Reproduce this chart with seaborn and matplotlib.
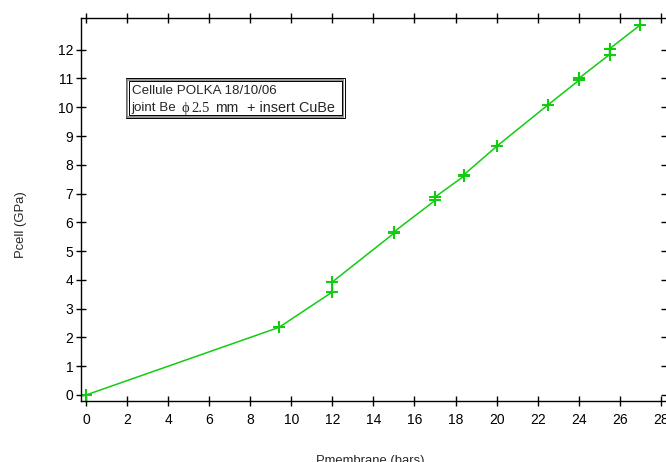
import numpy as np
import pandas as pd
import matplotlib
matplotlib.use('Agg')
import matplotlib.pyplot as plt
from matplotlib.patches import Rectangle
import seaborn as sns

# données
pmembrane = [0, 9.4, 12, 12, 15, 15, 17, 17, 18.4, 18.4, 20, 22.5, 24, 24, 25.5, 25.5, 27]
pcell = [0, 2.35, 3.58, 3.93, 5.62, 5.67, 6.76, 6.88, 7.6, 7.65, 8.64, 10.08, 10.93, 11.0, 11.83, 12.03, 12.86]
xticks = list(range(0, 29, 2))
yticks = list(range(0, 13))

W, H = 666, 462
sns.set_style('ticks')
plt.rcParams['font.family'] = ['Liberation Sans', 'DejaVu Sans']

fig = plt.figure(figsize=(W / 100, H / 100), dpi=100)
ax = fig.add_axes([80.7 / W, 1 - 401.3 / H, (W - 80.7) / W, (401.3 - 18.3) / H])

data = pd.DataFrame({'Pmembrane': pmembrane, 'Pcell': pcell})
sns.lineplot(data=data, x='Pmembrane', y='Pcell', sort=False, estimator=None,
             color='#11cc11', lw=1.1, marker='+', markersize=8,
             markeredgewidth=1.5, markeredgecolor='#11cc11', ax=ax)

ax.set_xlim(-0.258, 28.25)
ax.set_ylim(-0.219, 13.09)
ax.set_xticks(xticks)
ax.set_yticks(yticks)
ax.spines['right'].set_visible(False)
for s in ['left', 'top', 'bottom']:
    ax.spines[s].set_linewidth(1.0)
    ax.spines[s].set_color('black')
ax.tick_params(axis='x', direction='inout', length=7.5, width=1, top=True,
               labelsize=10, pad=5, colors='black')
ax.tick_params(axis='y', direction='inout', length=6.5, width=1, right=True,
               labelsize=10, pad=2, colors='black')

ax.set_xlabel('Pmembrane (bars)', fontsize=9.4)
ax.set_ylabel('Pcell (GPa)', fontsize=9.4)
ax.xaxis.set_label_coords(0.494, -0.14)
ax.yaxis.set_label_coords(-0.092, 0.46)


def px(x, y):
    return x / W, 1 - y / H


# cadre double de l'annotation
x0, y0, x1, y1 = 126, 78, 345, 118
for inset, col, lw in [(0, 'black', 0.7), (1.5, '#808080', 1.2), (3, 'black', 0.7)]:
    bx, by = px(x0 + inset, y1 - inset)
    fig.patches.append(Rectangle((bx, by), (x1 - x0 - 2 * inset) / W, (y1 - y0 - 2 * inset) / H,
                                 transform=fig.transFigure, fill=False, ec=col, lw=lw))

fs = 9.6
serif = ['Liberation Serif', 'DejaVu Serif']
fig.text(*px(131.5, 91.5), 'Cellule POLKA 18/10/06', fontsize=fs, va='center', ha='left')
fig.text(*px(131, 108), 'joint Be', fontsize=fs, va='center', ha='left')
fig.text(*px(182, 108.5), '\u03d5', fontsize=10.5, va='center', ha='left', family=serif)
fig.text(*px(191, 108), '2.5', fontsize=10.5, va='center', ha='left', family=serif)
fig.text(*px(215, 108), 'mm', fontsize=10.2, va='center', ha='left')
fig.text(*px(247, 108), '+ insert CuBe', fontsize=10.4, va='center', ha='left')

fig.savefig('out.png', dpi=100)
